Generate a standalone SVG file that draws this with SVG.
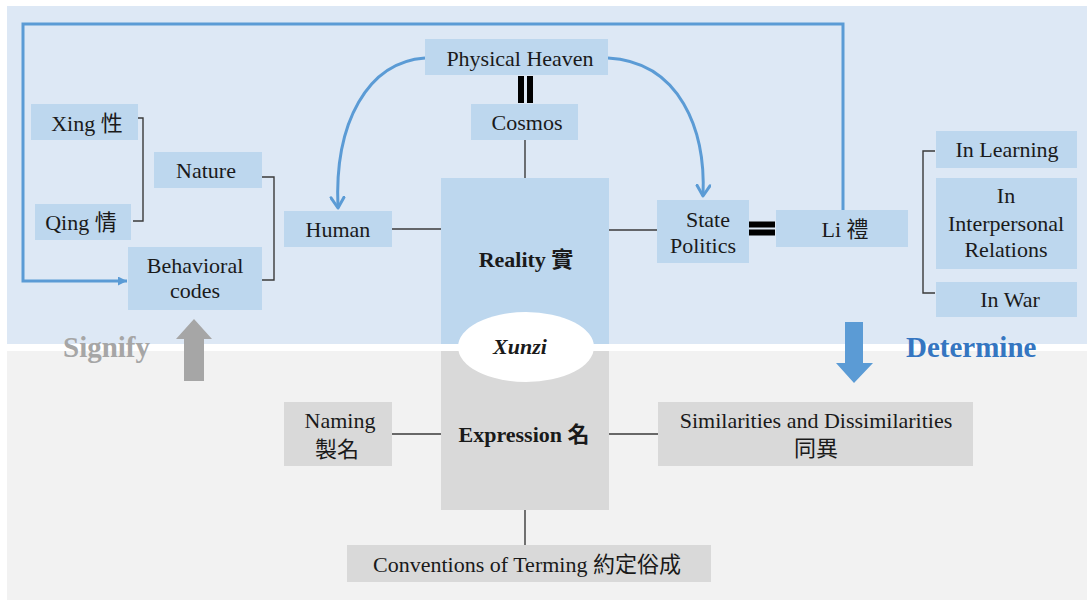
<svg xmlns="http://www.w3.org/2000/svg" width="1087" height="601" viewBox="0 0 1087 601">
<defs>
<style>
.bn{fill:#bdd7ee}
.gn{fill:#d9d9d9}
.t{font-family:"Liberation Serif","Noto Sans CJK TC",serif;font-size:22px;fill:#1a1a1a;text-anchor:middle}
.b{font-weight:bold}
.ln{stroke:#3a3a3a;stroke-width:1.4;fill:none}
.bl{stroke:#5b9bd5;stroke-width:3;fill:none}
</style>
<marker id="vh" viewBox="0 0 14 16" refX="12" refY="8" markerWidth="14" markerHeight="16" markerUnits="userSpaceOnUse" orient="auto">
<path d="M1.5,1.5 L12,8 L1.5,14.5" fill="none" stroke="#5b9bd5" stroke-width="3" stroke-linecap="round" stroke-linejoin="round"/>
</marker>
<marker id="th" viewBox="0 0 10 10" refX="10" refY="5" markerWidth="9" markerHeight="9" markerUnits="userSpaceOnUse" orient="auto">
<path d="M0,0 L10,5 L0,10 Z" fill="#5b9bd5"/>
</marker>
</defs>
<rect x="0" y="0" width="1087" height="601" fill="#ffffff"/>
<rect x="7" y="6" width="1080" height="338" fill="#dde8f5"/>
<rect x="7" y="351" width="1080" height="249" fill="#f2f2f2"/>

<g id="connectors">
<path class="bl" d="M843,210 V24 H23 V281 H127" stroke-width="2.6" marker-end="url(#th)"/>
<path class="bl" d="M425,58 C368,62 334,122 338,208" marker-end="url(#vh)"/>
<path class="bl" d="M608,58 C680,62 706,130 703,196" marker-end="url(#vh)"/>
<path class="ln" d="M133,118 H143 V221 H133"/>
<path class="ln" d="M262,177 H274 V280 H262"/>
<path class="ln" d="M392,229 H441"/>
<path class="ln" d="M525,140 V178"/>
<path class="ln" d="M608,230 H657"/>
<path class="ln" d="M935,151 H923 V293 H935"/>
<path class="ln" d="M392,434 H441"/>
<path class="ln" d="M609,434 H658"/>
<path class="ln" d="M525,510 V545"/>
<rect x="518" y="76" width="6" height="27" fill="#000"/>
<rect x="527" y="76" width="6" height="27" fill="#000"/>
<rect x="749" y="221.5" width="26" height="6" fill="#000"/>
<rect x="749" y="229.5" width="26" height="6" fill="#000"/>
<path d="M176,339 L194,319 L212,339 H204 V381 H184 V339 Z" fill="#a6a6a6"/>
<path d="M845,322 H863 V363 H873 L854,383 L836,363 H845 Z" fill="#5b9bd5"/>
</g>

<g id="xing"><rect class="bn" x="31" y="104" width="107" height="36"/><text class="t" x="87" y="131">Xing 性</text></g>
<g id="qing"><rect class="bn" x="35" y="204" width="96" height="36"/><text class="t" x="81" y="230">Qing 情</text></g>
<g id="nature"><rect class="bn" x="154" y="152" width="108" height="36"/><text class="t" x="206" y="178">Nature</text></g>
<g id="behavioral"><rect class="bn" x="128" y="247" width="134" height="63"/><text class="t" x="195" y="273">Behavioral</text><text class="t" x="195" y="298">codes</text></g>
<g id="human"><rect class="bn" x="284" y="211" width="108" height="36"/><text class="t" x="338" y="237">Human</text></g>
<g id="physical-heaven"><rect class="bn" x="425" y="39" width="183" height="36"/><text class="t" x="520" y="66">Physical Heaven</text></g>
<g id="cosmos"><rect class="bn" x="471" y="104" width="107" height="36"/><text class="t" x="527" y="130">Cosmos</text></g>
<g id="reality"><rect class="bn" x="441" y="178" width="168" height="166"/><text class="t b" x="526" y="267">Reality 實</text></g>
<g id="state"><rect class="bn" x="657" y="200" width="92" height="63"/><text class="t" x="708" y="227">State</text><text class="t" x="703" y="253">Politics</text></g>
<g id="li"><rect class="bn" x="776" y="210" width="132" height="37"/><text class="t" x="845" y="237">Li 禮</text></g>
<g id="in-learning"><rect class="bn" x="936" y="131" width="141" height="37"/><text class="t" x="1007" y="157">In Learning</text></g>
<g id="in-interpersonal"><rect class="bn" x="936" y="178" width="141" height="91"/><text class="t" x="1006" y="203">In</text><text class="t" x="1006" y="231">Interpersonal</text><text class="t" x="1006" y="257">Relations</text></g>
<g id="in-war"><rect class="bn" x="936" y="282" width="141" height="35"/><text class="t" x="1010" y="307">In War</text></g>
<g id="expression"><rect class="gn" x="441" y="351" width="168" height="159"/><text class="t b" x="524" y="442">Expression 名</text></g>
<g id="xunzi"><ellipse cx="526" cy="347" rx="68" ry="35" fill="#ffffff"/><text class="t b" x="520" y="354" font-style="italic">Xunzi</text></g>
<g id="naming"><rect class="gn" x="284" y="402" width="108" height="64"/><text class="t" x="340" y="428">Naming</text><text class="t" x="337" y="457">製名</text></g>
<g id="similarities"><rect class="gn" x="658" y="402" width="315" height="64"/><text class="t" x="816" y="428">Similarities and Dissimilarities</text><text class="t" x="816" y="456">同異</text></g>
<g id="conventions"><rect class="gn" x="347" y="545" width="364" height="37"/><text class="t" x="527" y="572">Conventions of Terming 約定俗成</text></g>
<g id="labels">
<text x="63" y="357" font-family="Liberation Serif,serif" font-size="29" font-weight="bold" fill="#a6a6a6">Signify</text>
<text x="906" y="357" font-family="Liberation Serif,serif" font-size="29" font-weight="bold" fill="#3576c1">Determine</text>
</g>
</svg>
